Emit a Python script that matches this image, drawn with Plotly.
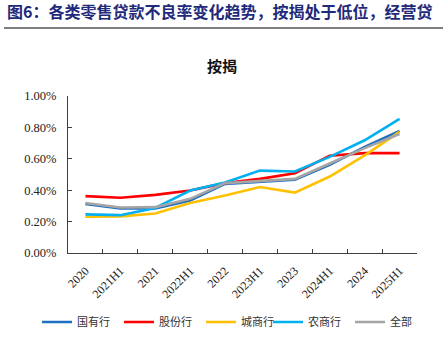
import plotly.graph_objects as go

# Periods on the x axis
periods = ["2020", "2021H1", "2021", "2022H1", "2022", "2023H1",
           "2023", "2024H1", "2024", "2025H1"]

# Mortgage NPL ratio by bank type (%)
state_owned = [0.313, 0.283, 0.283, 0.334, 0.440, 0.455, 0.466, 0.561, 0.676, 0.778]
joint_stock = [0.362, 0.352, 0.370, 0.398, 0.445, 0.472, 0.508, 0.620, 0.636, 0.636]
city_comm   = [0.231, 0.233, 0.252, 0.318, 0.366, 0.420, 0.385, 0.487, 0.622, 0.772]
rural_comm  = [0.246, 0.241, 0.287, 0.398, 0.449, 0.525, 0.519, 0.612, 0.718, 0.855]
all_banks   = [0.318, 0.290, 0.292, 0.345, 0.445, 0.458, 0.472, 0.570, 0.668, 0.758]

series_names = ["国有行", "股份行", "城商行", "农商行", "全部"]
series_vals = [state_owned, joint_stock, city_comm, rural_comm, all_banks]
series_colors = ["#1F6FC0", "#FF0000", "#FFC000", "#00B0F0", "#A5A5A5"]
# first three entries in one legend block, the rest in a second block
legend_ids = ["legend", "legend", "legend", "legend2", "legend2"]

y_ticks = [0.0, 0.2, 0.4, 0.6, 0.8, 1.0]
y_labels = [f"{v:.2f}%" for v in y_ticks]

W, H = 443, 338
L, R, T, B = 68, 26, 96, 85
pw, ph = W - L - R, H - T - B


def px(x):
    return (x - L) / pw


def py(y):
    return (H - B - y) / ph


fig = go.Figure()
for name, vals, col, lg in zip(series_names, series_vals, series_colors, legend_ids):
    fig.add_trace(go.Scatter(
        x=periods, y=vals, name=name, mode="lines",
        line=dict(color=col, width=2.6), legend=lg,
    ))

serif = "Liberation Serif, Times New Roman, serif"
cjk = "Noto Sans CJK SC"

legend_style = dict(
    orientation="h", xref="container", yref="container",
    xanchor="left", y=16 / H, yanchor="middle",
    font=dict(family=cjk, size=11, color="#333333"),
    itemwidth=30, tracegroupgap=0,
    entrywidth=37, entrywidthmode="pixels",
    bgcolor="rgba(0,0,0,0)",
)

fig.update_layout(
    width=W, height=H,
    margin=dict(l=L, r=R, t=T, b=B, autoexpand=False),
    paper_bgcolor="white", plot_bgcolor="white",
    showlegend=True,
    legend=dict(x=37 / W, **legend_style),
    legend2=dict(x=268 / W, **legend_style),
    xaxis=dict(
        type="category", showgrid=False, zeroline=False, automargin=False,
        showline=True, linecolor="#404040", linewidth=1,
        ticks="inside", ticklen=4, tickcolor="#404040",
        tickson="boundaries", tickangle=-45,
        ticklabelstandoff=5,
        tickfont=dict(family=serif, size=12, color="#222222"),
        range=[-0.5, len(periods) - 0.5],
    ),
    yaxis=dict(
        range=[0, 1.0], tickmode="array", automargin=False,
        tickvals=y_ticks, ticktext=y_labels,
        showgrid=False, zeroline=False,
        showline=True, linecolor="#404040", linewidth=1,
        ticks="inside", ticklen=4, tickcolor="#404040",
        ticklabelstandoff=8,
        tickfont=dict(family=serif, size=12.5, color="#222222"),
    ),
    annotations=[
        dict(text="图6：各类零售贷款不良率变化趋势，按揭处于低位，经营贷",
             xref="paper", yref="paper", x=px(5), y=py(11),
             xanchor="left", yanchor="middle", showarrow=False,
             font=dict(family=cjk, size=16, color="#1F2A7A", weight="bold")),
        dict(text="按揭", xref="paper", yref="paper",
             x=px(222), y=py(65), xanchor="center", yanchor="middle",
             showarrow=False,
             font=dict(family=cjk, size=15, color="#111111", weight="bold")),
    ],
    shapes=[
        dict(type="line", xref="paper", yref="paper",
             x0=px(4), x1=px(443), y0=py(28), y1=py(28),
             line=dict(color="#7F7F7F", width=2)),
    ],
)

fig.write_html("out.html")
